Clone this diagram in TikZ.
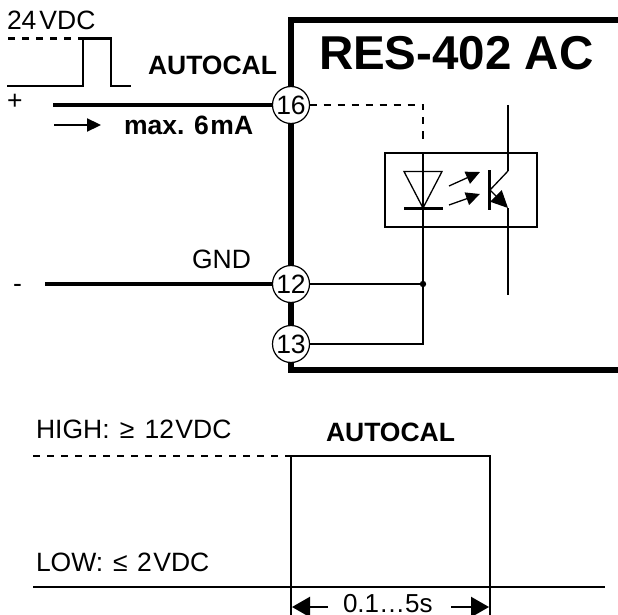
\documentclass[tikz,border=0pt]{standalone}
\usepackage{fontspec}
\setmainfont{Liberation Sans}
\usetikzlibrary{arrows.meta}
\tikzset{
  every node/.style={inner sep=0pt,outer sep=0pt},
  reg/.style={anchor=base west,font=\fontsize{26.5}{26.5}\selectfont},
  bld/.style={anchor=base west,font=\fontsize{26.5}{26.5}\selectfont\bfseries},
  title/.style={anchor=base west,font=\fontsize{47.5}{47.5}\selectfont\bfseries},
  term/.style={circle,draw=black,line width=1.2pt,fill=white,minimum size=37pt,font=\fontsize{26.5}{26.5}\selectfont},
  wirea/.style={line width=2.3pt,black},
  wireb/.style={line width=3.2pt,black},
  dashw/.style={line width=2.3pt,black,dash pattern=on 7pt off 7pt},
  bar/.style={line width=6pt,black},
  headA/.style={-{Triangle[length=14pt,width=13pt]}},
  headE/.style={-{Triangle[length=17pt,width=16pt]}},
  headB/.style={{Triangle[length=18pt,width=20pt]}-},
  headC/.style={-{Triangle[length=18pt,width=20pt]}}
}
\begin{document}
\begin{tikzpicture}[x=1pt,y=-1pt]
\useasboundingbox (0,0) rectangle (618,615);
\clip (0,0) rectangle (618,615);
% housing
\coordinate (boxTR) at (618,20);
\coordinate (boxTL) at (291,20);
\coordinate (boxBL) at (291,370);
\coordinate (boxBR) at (618,370);
\draw[bar,line join=miter] (boxTR) -- (boxTL) -- (boxBL) -- (boxBR);
% opto box
\node[draw=black,line width=2.3pt,minimum width=152pt,minimum height=74pt,anchor=north west] (opto) at (385,153) {};
% terminals
\node[term] (t16) at (291,105) {16};
\node[term] (t12) at (291,284) {12};
\node[term] (t13) at (291,344) {13};
% wires
\coordinate (plus) at (53,105);
\coordinate (gnd) at (45,284);
\coordinate (j) at (423,284);
\coordinate (dashcorner) at (423,105);
\coordinate (dashend) at (423,141);
\coordinate (ledtop) at (423,153);
\draw[wireb] (plus) -- (t16);
\draw[wireb] (gnd) -- (t12);
\draw[wirea] (t12) -- (j);
\draw[wirea] (t13.east) -- (423,344) -- (ledtop);
\fill (j) circle (3.2pt);
\draw[dashw] (t16.east) -- (dashcorner) -- (dashend);
% input pulse
\coordinate (p0) at (7,86);
\coordinate (p1) at (83,86);
\coordinate (p2) at (83,38.5);
\coordinate (p3) at (111,38.5);
\coordinate (p4) at (111,86);
\coordinate (p5) at (131,86);
\coordinate (pd) at (8,38.5);
\draw[wirea,line join=miter] (p0) -- (p1) -- (p2) -- (p3) -- (p4) -- (p5);
\draw[dashw] (pd) -- (p2);
% current arrow
\coordinate (ia) at (54,125);
\coordinate (ib) at (101,125);
\draw[wirea,headA] (ia) -- (ib);
% LED
\coordinate (la) at (404,171.5);
\coordinate (lb) at (442,171.5);
\coordinate (lc) at (423,208);
\draw[line width=1.3pt,line join=miter] (la) -- (lb) -- (lc) -- cycle;
\coordinate (ld) at (404,208.5);
\coordinate (le) at (443,208.5);
\draw[wirea] (ld) -- (le);
% light arrows
\coordinate (r1a) at (449,186);
\coordinate (r1b) at (480,172);
\coordinate (r2a) at (449,205);
\coordinate (r2b) at (480,194);
\draw[line width=1.3pt,headA] (r1a) -- (r1b);
\draw[line width=1.3pt,headA] (r2a) -- (r2b);
% transistor
\coordinate (ba) at (489.5,170);
\coordinate (bb) at (489.5,210);
\draw[wireb] (ba) -- (bb);
\coordinate (c0) at (508,105);
\coordinate (c1) at (508,171);
\coordinate (bc) at (490,190);
\coordinate (e1) at (508,208);
\coordinate (e0) at (508,295);
\draw[wirea] (c0) -- (c1);
\draw[line width=1.3pt] (c1) -- (bc);
\draw[line width=1.3pt,headE] (bc) -- (e1);
\draw[wirea] (e1) -- (e0);
% timing diagram
\coordinate (hd0) at (33,456);
\coordinate (hd1) at (291,456);
\coordinate (hi2) at (490,456);
\coordinate (lo0) at (33,587);
\coordinate (lo1) at (291,587);
\coordinate (lo2) at (490,587);
\coordinate (lo3) at (605,587);
\coordinate (t1) at (291,615);
\coordinate (t2) at (490,615);
\draw[dashw] (hd0) -- (hd1);
\draw[line width=2.6pt,line join=miter] (lo1) -- (hd1) -- (hi2) -- (lo2);
\draw[line width=2.4pt] (lo0) -- (lo3);
\draw[line width=1.2pt] (lo1) -- (t1);
\draw[line width=1.2pt] (lo2) -- (t2);
\coordinate (d1a) at (292,607);
\coordinate (d1b) at (328,607);
\coordinate (d2a) at (451,607);
\coordinate (d2b) at (489,607);
\draw[wirea,headB] (d1a) -- (d1b);
\draw[wirea,headC] (d2a) -- (d2b);
% texts
\node[reg] (v24) at (7,30) {24\kern3pt VDC};
\node[bld] (ac1) at (148,75) {AUTOCAL};
\node[reg] (pl) at (7,110) {+};
\node[bld] (ma) at (124,135) {max. 6\kern1.5pt mA};
\node[reg] (gn) at (192,268) {GND};
\node[reg] (mn) at (13,292) {-};
\node[title] (ttl) at (319,70) {RES-402 AC};
\node[reg] (hi) at (36,438) {HIGH: \kern3pt≥\kern10pt 12\kern1.5pt VDC};
\node[bld] (ac2) at (326,441) {AUTOCAL};
\node[reg] (lo) at (36,571) {LOW: \kern2.5pt≤\kern9.5pt 2\kern1.5pt VDC};
\node[reg,font=\fontsize{26}{26}\selectfont] (dt) at (343,612) {0.1…5s};
\end{tikzpicture}
\end{document}
